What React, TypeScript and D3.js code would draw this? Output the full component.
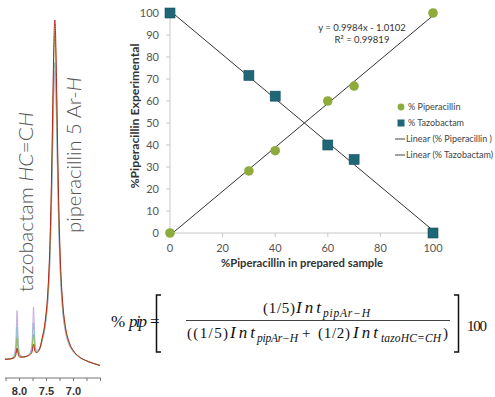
import React from "react";
import * as d3 from "d3";

// scatter: % piperacillin in prepared sample vs experimental
const prepared = [0, 30, 40, 60, 70, 100];
const pipExp = [0, 28.2, 37.4, 60, 66.8, 100];
const tazExp = [100, 71.6, 62.2, 40, 33.4, 0];
const xTicks = [0, 20, 40, 60, 80, 100];
const yTicks = [0, 10, 20, 30, 40, 50, 60, 70, 80, 90, 100];
const fitSlope = [0.9984, -0.9984];
const fitIntercept = [-1.0102, 101.0102];
const legendLabels = ["% Piperacillin", "% Tazobactam", "Linear (% Piperacillin )", "Linear (% Tazobactam)"];

// NMR spectrum (ppm, intensity)
const specPpm = [8.27, 8.18, 8.1, 8.07, 8.055, 8.045, 8.035, 8.02, 7.99, 7.92, 7.84, 7.79, 7.77, 7.75, 7.74, 7.73, 7.71, 7.68, 7.63, 7.58, 7.52, 7.47, 7.44, 7.42, 7.4, 7.38, 7.365, 7.355, 7.345, 7.335, 7.325, 7.31, 7.29, 7.27, 7.24, 7.2, 7.15, 7.08, 7.0, 6.9, 6.78, 6.65, 6.51];
const specPurple = [0.2, 0.3, 1.5, 4.6, 10.6, 14.5, 10.6, 4.7, 1.7, 0.9, 1.3, 2.8, 4.7, 11.8, 15.6, 11.8, 4.8, 2.9, 3.0, 5.5, 10.2, 18.3, 27.6, 37.4, 50.6, 66.7, 78.2, 83.3, 85, 82.9, 77.4, 66.3, 50.2, 37, 23.8, 14.3, 8.3, 4.4, 2.3, 0.9, -0.1, -0.9, -1.6];
const specTeal = [0.2, 0.3, 1.1, 3.2, 7.2, 9.8, 7.2, 3.3, 1.3, 0.9, 1.3, 2.3, 3.6, 8.4, 10.9, 8.4, 3.7, 2.6, 3.1, 5.7, 10.5, 18.8, 28.4, 38.5, 52.1, 68.7, 80.5, 85.8, 87.5, 85.3, 79.6, 68.3, 51.6, 38.1, 24.5, 14.7, 8.6, 4.6, 2.4, 0.9, -0.1, -0.9, -1.6];
const specGreen = [0.2, 0.3, 0.9, 2.2, 4.8, 6.5, 4.8, 2.3, 1.1, 0.9, 1.3, 2.0, 2.9, 6.0, 7.6, 6.0, 3.0, 2.4, 3.1, 6.2, 11.5, 20.6, 31.2, 42.2, 57.1, 75.4, 88.3, 94.1, 96, 93.6, 87.4, 74.9, 56.6, 41.8, 26.9, 16.1, 9.4, 5.0, 2.6, 1.0, -0.1, -0.9, -1.6];
const specRed = [0.2, 0.3, 0.6, 1.4, 2.7, 3.5, 2.7, 1.5, 0.8, 0.9, 1.3, 1.8, 2.3, 3.9, 4.6, 3.9, 2.4, 2.2, 3.2, 6.5, 12, 21.5, 32.5, 44, 59.5, 78.5, 92, 98, 100, 97.5, 91, 78, 59, 43.5, 28, 16.8, 9.8, 5.2, 2.7, 1.0, -0.1, -0.9, -1.6];
const specTicks = [8.25, 8.0, 7.75, 7.5, 7.25, 7.0, 6.75, 6.5];
const specLabels = [8.0, 7.5, 7.0];

const green = "#8eac3c";
const teal = "#1f6676";

export default function App() {
  const x = d3.scaleLinear().domain([0, 100]).range([170, 433]);
  const y = d3.scaleLinear().domain([0, 100]).range([233, 13]);

  const sx = d3.scaleLinear().domain([8.0, 7.0]).range([19.5, 73.5]);
  const sy = d3.scaleLinear().domain([0, 100]).range([360, 20]);
  const specLine = d3
    .line<number>()
    .x((_, i) => sx(specPpm[i]))
    .y((d) => sy(d))
    .curve(d3.curveMonotoneX);

  const traces = [
    { vals: specPurple, color: "#c2aae4" },
    { vals: specTeal, color: "#86c2d2" },
    { vals: specGreen, color: "#9cb848" },
    { vals: specRed, color: "#b3261c" },
  ];

  const legendY = [107, 123, 139, 155];
  const serif = "'Liberation Serif', 'DejaVu Serif', serif";
  const fit = "spacingAndGlyphs";

  return (
    <svg width={495} height={397} style={{ position: "absolute", left: 0, top: 0, background: "#fff" }} fontFamily="Lato, 'Open Sans', sans-serif">
      {/* spectrum */}
      <g>
        {traces.map((t, i) => (
          <path key={i} d={specLine(t.vals) || ""} fill="none" stroke={t.color} strokeWidth={1} strokeLinejoin="round" />
        ))}
        <line x1={5} x2={101} y1={378} y2={378} stroke="#777" strokeWidth={1} />
        {specTicks.map((t) => (
          <line key={t} x1={sx(t)} x2={sx(t)} y1={378} y2={381} stroke="#777" strokeWidth={1} />
        ))}
        {specLabels.map((t) => (
          <text key={t} x={sx(t)} y={395} textAnchor="middle" fontSize={11} fontWeight={700} fill="#333" fontFamily="'Liberation Sans', Arial, sans-serif">
            {t.toFixed(1)}
          </text>
        ))}
        <text transform="translate(33,292) rotate(-90)" fontSize={20} fontWeight={300} fill="#555" textLength={180} lengthAdjust={fit}>
          tazobactam <tspan fontStyle="italic">HC</tspan>=C<tspan fontStyle="italic">H</tspan>
        </text>
        <text transform="translate(81,233) rotate(-90)" fontSize={19} fontWeight={300} fill="#555" textLength={156} lengthAdjust={fit}>
          piperacillin 5 Ar-<tspan fontStyle="italic">H</tspan>
        </text>
      </g>

      {/* scatter chart */}
      <g>
        <line x1={x(0)} x2={x(0)} y1={y(0)} y2={y(100)} stroke="#c8c8c8" />
        <line x1={x(0)} x2={x(100)} y1={y(0)} y2={y(0)} stroke="#c8c8c8" />
        {yTicks.map((t) => (
          <g key={t}>
            <line x1={x(0) - 4} x2={x(0)} y1={y(t)} y2={y(t)} stroke="#c8c8c8" />
            <text x={159} y={y(t) + 4} textAnchor="end" fontSize={11} fill="#555">
              {t}
            </text>
          </g>
        ))}
        {xTicks.map((t) => (
          <g key={t}>
            <line x1={x(t)} x2={x(t)} y1={y(0)} y2={y(0) + 4} stroke="#c8c8c8" />
            <text x={x(t)} y={252} textAnchor="middle" fontSize={11} fill="#555">
              {t}
            </text>
          </g>
        ))}
        <text transform="translate(139,116) rotate(-90)" textAnchor="middle" fontSize={11} fontWeight={700} fill="#333" textLength={145} lengthAdjust={fit}>
          %Piperacillin Experimental
        </text>
        <text x={302} y={267} textAnchor="middle" fontSize={11} fontWeight={700} fill="#333" textLength={162} lengthAdjust={fit}>
          %Piperacillin in prepared sample
        </text>

        {fitSlope.map((m, i) => (
          <line key={i} x1={x(0)} y1={y(fitIntercept[i])} x2={x(100)} y2={y(m * 100 + fitIntercept[i])} stroke="#333" strokeWidth={1} />
        ))}

        {prepared.map((p, i) => (
          <circle key={"c" + i} cx={x(p)} cy={y(pipExp[i])} r={4.8} fill={green} />
        ))}
        {prepared.map((p, i) => (
          <rect key={"s" + i} x={x(p) - 5} y={y(tazExp[i]) - 5} width={10} height={10} fill={teal} stroke="#174f5c" strokeWidth={0.6} />
        ))}

        <text x={362} y={31} textAnchor="middle" fontSize={9.5} fill="#333">
          y = 0.9984x - 1.0102
        </text>
        <text x={362} y={42.5} textAnchor="middle" fontSize={9.5} fill="#333">
          R² = 0.99819
        </text>

        {/* legend */}
        <circle cx={401} cy={legendY[0]} r={3.4} fill={green} />
        <rect x={397.5} y={legendY[1] - 3.5} width={7} height={7} fill={teal} />
        <line x1={395} x2={405} y1={legendY[2]} y2={legendY[2]} stroke="#444" />
        <line x1={395} x2={405} y1={legendY[3]} y2={legendY[3]} stroke="#444" />
        {legendLabels.map((l, i) => (
          <text key={l} x={i < 2 ? 408 : 406} y={legendY[i] + 3} fontSize={9} fill="#444">
            {l}
          </text>
        ))}
      </g>

      {/* formula */}
      <g fontFamily={serif} fill="#111">
        <text x={111} y={327} fontSize={17}>%</text>
        <text x={129} y={327} fontSize={17} fontStyle="italic" textLength={18} lengthAdjust="spacing">pip</text>
        <text x={150} y={327} fontSize={17}>=</text>
        <path d="M161,295 H156.5 V352 H161" fill="none" stroke="#111" strokeWidth={1.5} />
        <path d="M454,295 H458.5 V352 H454" fill="none" stroke="#111" strokeWidth={1.5} />
        <line x1={186} x2={450} y1={320.5} y2={320.5} stroke="#111" strokeWidth={0.8} />

        <text x={263} y={313} fontSize={15} textLength={32} lengthAdjust="spacing">(1/5)</text>
        <text x={296} y={313} fontSize={17} fontStyle="italic" textLength={25} lengthAdjust="spacing">Int</text>
        <text x={323} y={317} fontSize={11.5} fontStyle="italic" textLength={47} lengthAdjust="spacing">pipAr−H</text>

        <text x={187} y={338} fontSize={15} textLength={41} lengthAdjust="spacing">((1/5)</text>
        <text x={230} y={338} fontSize={17} fontStyle="italic" textLength={25} lengthAdjust="spacing">Int</text>
        <text x={257} y={342} fontSize={11.5} fontStyle="italic" textLength={41} lengthAdjust="spacing">pipAr−H</text>
        <text x={302} y={338} fontSize={15}>+</text>
        <text x={318} y={338} fontSize={15} textLength={32} lengthAdjust="spacing">(1/2)</text>
        <text x={353} y={338} fontSize={17} fontStyle="italic" textLength={25} lengthAdjust="spacing">Int</text>
        <text x={381} y={342} fontSize={11.5} fontStyle="italic" textLength={60} lengthAdjust="spacing">tazoHC=CH</text>
        <text x={443} y={338} fontSize={15}>)</text>

        <text x={467} y={331} fontSize={15} textLength={20} lengthAdjust="spacing">100</text>
      </g>
    </svg>
  );
}
